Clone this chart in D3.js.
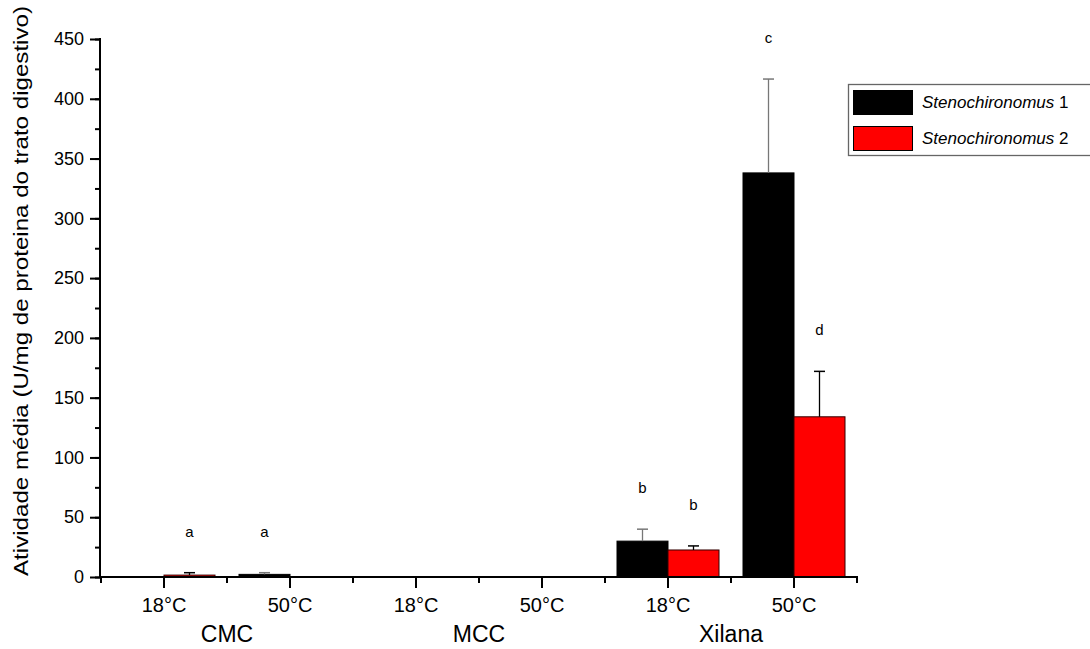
<!DOCTYPE html>
<html>
<head>
<meta charset="utf-8">
<script src="https://cdn.jsdelivr.net/npm/d3@7"></script>
<style>
	body { margin: 0; background: #fff; }
	svg { display: block; font-family: "Liberation Sans", Arial, sans-serif; }
</style>
</head>
<body>
<div id="chart"></div>
<script>
// data
var categories = ["CMC 18", "CMC 50", "MCC 18", "MCC 50", "Xilana 18", "Xilana 50"];
var tempLabels = ["18°C", "50°C", "18°C", "50°C", "18°C", "50°C"];
var substrates = ["CMC", "MCC", "Xilana"];
var seriesNames = ["Stenochironomus", "Stenochironomus"];
var seriesNums = [" 1", " 2"];
var steno1 = [0, 2.2, 0, 0, 30, 338];
var steno1Err = [0, 1.4, 0, 0, 10, 78.5];
var steno2 = [1.6, 0, 0, 0, 22.6, 134];
var steno2Err = [2, 0, 0, 0, 3.4, 38];
var letters1 = ["", "a", "", "", "b", "c"];
var letters2 = ["a", "", "", "", "b", "d"];
var yTicks = [0, 50, 100, 150, 200, 250, 300, 350, 400, 450];

var width = 1090, height = 649;

var svg = d3.select("#chart").append("svg")
	.attr("width", width)
	.attr("height", height);

var x = d3.scaleBand()
	.domain(categories)
	.range([101, 857])
	.padding(0);

var sub = d3.scaleBand()
	.domain([0, 1])
	.range([x.bandwidth() / 2 - 51, x.bandwidth() / 2 + 51]);

var y = d3.scaleLinear()
	.domain([0, 450])
	.range([577, 39]);

var series = [
	{ vals: steno1, err: steno1Err, letters: letters1, fill: "#000", stroke: "#000", errColor: "#777" },
	{ vals: steno2, err: steno2Err, letters: letters2, fill: "#ff0000", stroke: "#300", errColor: "#000" }
];

// bars
series.forEach(function(s, si) {
	var g = svg.append("g");
	g.selectAll("rect").data(categories).enter().append("rect")
		.attr("x", function(d) { return x(d) + sub(si); })
		.attr("y", function(d, i) { return y(s.vals[i]); })
		.attr("width", sub.bandwidth())
		.attr("height", function(d, i) { return y(0) - y(s.vals[i]); })
		.style("fill", s.fill)
		.style("stroke", s.stroke)
		.style("stroke-width", function(d, i) { return s.vals[i] > 0 ? 1 : 0; });
});

// error bars + letters
series.forEach(function(s, si) {
	var g = svg.append("g");
	categories.forEach(function(d, i) {
		if (s.err[i] <= 0) return;
		var cx = x(d) + sub(si) + sub.bandwidth() / 2;
		var top = y(s.vals[i] + s.err[i]);
		g.append("line")
			.attr("x1", cx).attr("x2", cx)
			.attr("y1", y(s.vals[i])).attr("y2", top)
			.style("stroke", s.errColor).style("stroke-width", 1.3);
		g.append("line")
			.attr("x1", cx - 5.5).attr("x2", cx + 5.5)
			.attr("y1", top).attr("y2", top)
			.style("stroke", s.errColor).style("stroke-width", 1.5);
	});
	g.selectAll("text").data(categories).enter().append("text")
		.attr("x", function(d) { return x(d) + sub(si) + sub.bandwidth() / 2; })
		.attr("y", function(d, i) { return y(s.vals[i] + s.err[i]) - 36; })
		.attr("text-anchor", "middle")
		.style("font-size", "15px")
		.text(function(d, i) { return s.letters[i]; });
});

// y axis
var yAxis = svg.append("g").attr("transform", "translate(100,0)");
yAxis.call(d3.axisLeft(y).tickValues(d3.range(0, 451, 25)).tickSize(5).tickFormat(""));
yAxis.call(function(g) {
	g.selectAll(".tick line").style("stroke-width", 2);
	g.select(".domain").remove();
});
var yMajor = svg.append("g").attr("transform", "translate(100,0)");
yMajor.call(d3.axisLeft(y).tickValues(yTicks).tickSize(10).tickPadding(6));
yMajor.select(".domain").remove();
yMajor.selectAll(".tick line").style("stroke-width", 2);
yMajor.selectAll(".tick text").style("font-size", "18px").attr("fill", "#000");
svg.append("line")
	.attr("x1", 100).attr("x2", 100)
	.attr("y1", y(450) - 1).attr("y2", y(0) + 1)
	.style("stroke", "#000").style("stroke-width", 2);

// x axis
svg.append("line")
	.attr("x1", 99).attr("x2", 858)
	.attr("y1", y(0)).attr("y2", y(0))
	.style("stroke", "#000").style("stroke-width", 2);
var xg = svg.append("g").attr("transform", "translate(0," + y(0) + ")");
// long ticks at category centres
xg.selectAll(".major").data(categories).enter().append("line")
	.attr("x1", function(d) { return x(d) + x.bandwidth() / 2; })
	.attr("x2", function(d) { return x(d) + x.bandwidth() / 2; })
	.attr("y1", 0).attr("y2", 11)
	.style("stroke", "#000").style("stroke-width", 2);
// short ticks at boundaries
var bounds = categories.map(function(d) { return x(d); }).concat([x.range()[1]]);
xg.selectAll(".minor").data(bounds).enter().append("line")
	.attr("x1", function(d) { return d; }).attr("x2", function(d) { return d; })
	.attr("y1", 0).attr("y2", 6)
	.style("stroke", "#000").style("stroke-width", 2);
xg.selectAll(".tlab").data(categories).enter().append("text")
	.attr("x", function(d) { return x(d) + x.bandwidth() / 2; })
	.attr("y", 35)
	.attr("text-anchor", "middle")
	.style("font-size", "20px")
	.text(function(d, i) { return tempLabels[i]; });

// substrate labels under each pair
svg.selectAll(".sublab").data(substrates).enter().append("text")
	.attr("x", function(d, i) { return x(categories[i * 2 + 1]); })
	.attr("y", 642)
	.attr("text-anchor", "middle")
	.style("font-size", "23px")
	.text(function(d) { return d; });

// y title
svg.append("text")
	.attr("transform", "translate(28," + 291 + ") rotate(-90)")
	.attr("text-anchor", "middle")
	.attr("textLength", 570)
	.attr("lengthAdjust", "spacingAndGlyphs")
	.style("font-size", "21px")
	.text("Atividade média (U/mg de proteina do trato digestivo)");

// legend
var lg = svg.append("g");
lg.append("rect")
	.attr("x", 848.5).attr("y", 84.5)
	.attr("width", 250).attr("height", 71)
	.style("fill", "#fff").style("stroke", "#666").style("stroke-width", 1.3);
var legColors = ["#000", "#ff0000"];
var legY = [90, 126];
seriesNames.forEach(function(name, i) {
	lg.append("rect")
		.attr("x", 853.5).attr("y", legY[i] + 0.5)
		.attr("width", 59).attr("height", 24)
		.style("fill", legColors[i]).style("stroke", "#000").style("stroke-width", 1);
	var t = lg.append("text")
		.attr("x", 922).attr("y", legY[i] + 18)
		.style("font-size", "17px");
	t.append("tspan").style("font-style", "italic").text(name);
	t.append("tspan").text(seriesNums[i]);
});
</script>
</body>
</html>
